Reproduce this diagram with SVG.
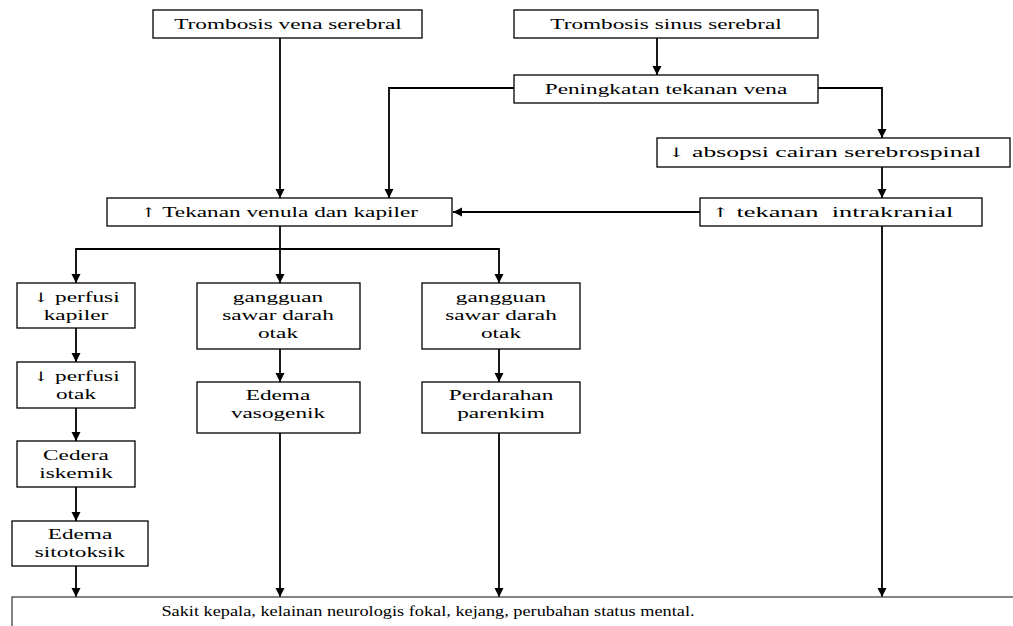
<svg xmlns="http://www.w3.org/2000/svg" width="1013" height="626" viewBox="0 0 1013 626">
<style>
.box{fill:#fff;stroke:#000;stroke-width:1.3}
.t{font-family:"Liberation Serif","DejaVu Serif","Times New Roman",serif;font-size:15px;fill:#000;text-anchor:middle;white-space:pre}
.ar{font-family:"DejaVu Serif","Liberation Serif",serif;font-size:13px}
.c{fill:none;stroke:#000;stroke-width:1.8;marker-end:url(#ah)}
.l{fill:none;stroke:#000;stroke-width:1.8}
</style>
<defs>
<marker id="ah" markerUnits="userSpaceOnUse" markerWidth="10" markerHeight="10" refX="9" refY="5" orient="auto">
<path d="M0,0.5 L9,5 L0,9.5 z" fill="#000"/>
</marker>
</defs>
<rect width="1013" height="626" fill="#fff"/>
<g id="connectors">
<path class="c" d="M280,38 V198"/>
<path class="c" d="M657,38 V75"/>
<path class="c" d="M514,88 H389 V198"/>
<path class="c" d="M818,88 H882 V138"/>
<path class="c" d="M882,167 V198"/>
<path class="c" d="M700,212 H453"/>
<path class="c" d="M882,226 V597"/>
<path class="l" d="M280,226 V249"/>
<path class="c" d="M280,249 V283"/>
<path class="c" d="M280,249 H76 V283"/>
<path class="c" d="M280,249 H499 V283"/>
<path class="c" d="M76,328 V362"/>
<path class="c" d="M76,408 V441"/>
<path class="c" d="M76,487 V521"/>
<path class="c" d="M76,566 V597"/>
<path class="c" d="M280,349 V382"/>
<path class="c" d="M280,433 V597"/>
<path class="c" d="M499,349 V382"/>
<path class="c" d="M499,433 V597"/>
</g>
<g id="n-vena"><rect class="box" x="153" y="10" width="269" height="28"/><text class="t" transform="translate(288 29) scale(1.55 1)">Trombosis vena serebral</text></g>
<g id="n-sinus"><rect class="box" x="514" y="10" width="304" height="28"/><text class="t" transform="translate(666 29) scale(1.55 1)">Trombosis sinus serebral</text></g>
<g id="n-peningkatan"><rect class="box" x="514" y="75" width="304" height="28"/><text class="t" transform="translate(666 94) scale(1.55 1)">Peningkatan tekanan vena</text></g>
<g id="n-absopsi"><rect class="box" x="657" y="138" width="353" height="29"/><text class="t" transform="translate(824 157) scale(1.71 1)"><tspan class="ar">↓</tspan> absopsi cairan serebrospinal</text></g>
<g id="n-tekanan"><rect class="box" x="107" y="198" width="345" height="28"/><text class="t" transform="translate(279 217) scale(1.55 1)"><tspan class="ar">↑</tspan> Tekanan venula dan kapiler</text></g>
<g id="n-intrakranial"><rect class="box" x="700" y="198" width="282" height="28"/><text class="t" transform="translate(832 217) scale(1.76 1)"><tspan class="ar">↑</tspan> tekanan  intrakranial</text></g>
<g id="n-perfusi-kapiler"><rect class="box" x="17" y="283" width="118" height="45"/><text class="t" transform="translate(76 302) scale(1.55 1)"><tspan x="0"><tspan class="ar">↓</tspan> perfusi</tspan><tspan x="0" dy="18">kapiler</tspan></text></g>
<g id="n-gangguan1"><rect class="box" x="197" y="283" width="163" height="66"/><text class="t" transform="translate(278 302) scale(1.55 1)"><tspan x="0">gangguan</tspan><tspan x="0" dy="18">sawar darah</tspan><tspan x="0" dy="18">otak</tspan></text></g>
<g id="n-gangguan2"><rect class="box" x="422" y="283" width="158" height="66"/><text class="t" transform="translate(501 302) scale(1.55 1)"><tspan x="0">gangguan</tspan><tspan x="0" dy="18">sawar darah</tspan><tspan x="0" dy="18">otak</tspan></text></g>
<g id="n-perfusi-otak"><rect class="box" x="17" y="362" width="118" height="46"/><text class="t" transform="translate(76 381) scale(1.55 1)"><tspan x="0"><tspan class="ar">↓</tspan> perfusi</tspan><tspan x="0" dy="18">otak</tspan></text></g>
<g id="n-edema-vasogenik"><rect class="box" x="197" y="382" width="163" height="51"/><text class="t" transform="translate(278 400) scale(1.55 1)"><tspan x="0">Edema</tspan><tspan x="0" dy="18">vasogenik</tspan></text></g>
<g id="n-perdarahan"><rect class="box" x="422" y="382" width="158" height="51"/><text class="t" transform="translate(501 400) scale(1.55 1)"><tspan x="0">Perdarahan</tspan><tspan x="0" dy="18">parenkim</tspan></text></g>
<g id="n-cedera"><rect class="box" x="17" y="441" width="118" height="46"/><text class="t" transform="translate(76 460) scale(1.55 1)"><tspan x="0">Cedera</tspan><tspan x="0" dy="18">iskemik</tspan></text></g>
<g id="n-edema-sitotoksik"><rect class="box" x="12" y="521" width="136" height="45"/><text class="t" transform="translate(80 539) scale(1.55 1)"><tspan x="0">Edema</tspan><tspan x="0" dy="18">sitotoksik</tspan></text></g>
<g id="n-gejala"><rect class="box" x="12" y="597" width="1010" height="40" style="stroke:#444"/><text class="t" transform="translate(428 616) scale(1.22 1)">Sakit kepala, kelainan neurologis fokal, kejang, perubahan status mental.</text></g>
</svg>
